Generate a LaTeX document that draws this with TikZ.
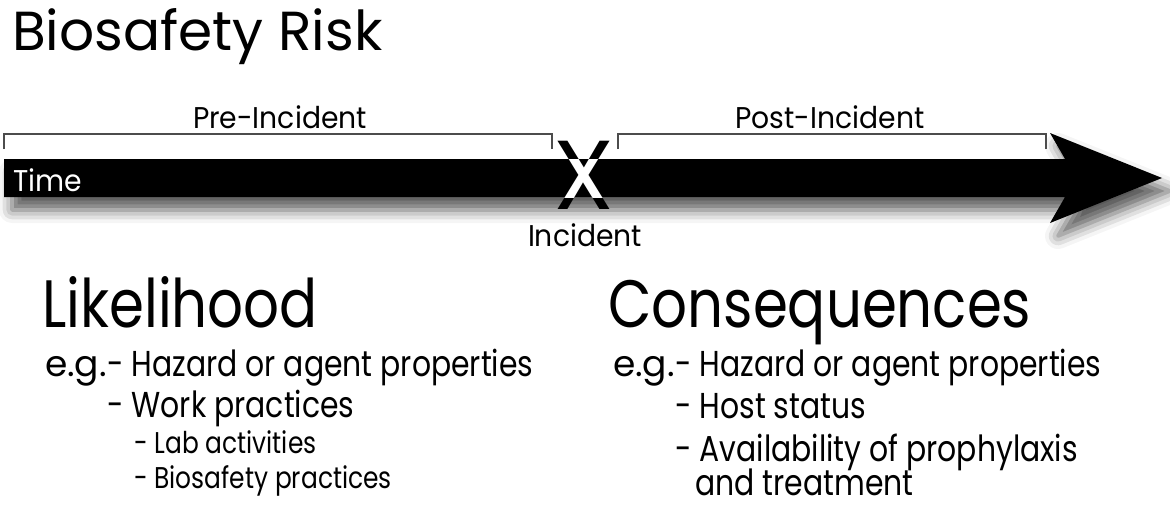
\documentclass[tikz,border=0pt]{standalone}
\usepackage{fontspec}
\setmainfont{Poppins}
\newfontfamily\headfont[FakeStretch=0.84]{Poppins}
\newfontfamily\itemfont[FakeStretch=0.83]{Poppins}
\newfontfamily\subfont[FakeStretch=0.83]{Poppins}
\newfontfamily\spanfont[FakeStretch=0.94]{Poppins}
\usetikzlibrary{shadows.blur}

\tikzset{
  txt/.style={anchor=base west, inner sep=0pt},
  titletxt/.style={txt, font=\fontsize{55}{60}\selectfont},
  headtxt/.style={txt, font=\headfont\fontsize{67}{72}\selectfont},
  itemtxt/.style={txt, font=\itemfont\fontsize{36}{42}\selectfont},
  egtxt/.style={anchor=base east, inner sep=0pt, font=\fontsize{36}{42}\selectfont},
  subtxt/.style={txt, font=\subfont\fontsize{30}{34}\selectfont},
  spantxt/.style={anchor=base, inner sep=0pt, font=\spanfont\fontsize{30}{36}\selectfont},
  bracket/.style={line width=2pt, draw=black!70},
  xmark/.style={inner sep=0pt, font=\fontsize{98}{98}\selectfont},
}

\begin{document}
\begin{tikzpicture}[x=1pt,y=-1pt]
\useasboundingbox (0,0) rectangle (1170,506);

\node[titletxt] (title) at (12,50) {Biosafety Risk}; %title

%time arrow
\fill[black, blur shadow={shadow xshift=8pt, shadow yshift=-13pt, shadow blur radius=13pt, shadow opacity=65}]
  (4,159) -- (1065,159) -- (1050,133) -- (1162,178) -- (1050,223) -- (1065,197) -- (4,197) -- cycle;
\node[txt, text=white, font=\spanfont\fontsize{30}{36}\selectfont] (time) at (13,191) {Time}; %time label

%brackets
\coordinate (pre w) at (4,149);
\coordinate (pre e) at (552,149);
\coordinate (post w) at (618,149);
\coordinate (post e) at (1046,149);
\draw[bracket] (pre w) -- ++(0,-15) -| (pre e); %pre bracket
\draw[bracket] (post w) -- ++(0,-15) -| (post e); %post bracket
\node[spantxt] (pre) at (280,128) {Pre-Incident};
\node[spantxt] (post) at (830,128) {Post-Incident};

%incident mark
\node[xmark] (xm) at (584,175) {X};
\begin{scope}
  \clip (4,159) rectangle (1065,197);
  \node[xmark, text=white] at (584,175) {X};
\end{scope}
\node[spantxt] (incident) at (585,246) {Incident};

%likelihood
\node[headtxt] (likely) at (42,327) {Likelihood};
\node[egtxt] (eg1) at (107,376) {e.g.};
\node[itemtxt] (l1) at (107,376) {- Hazard or agent properties};
\node[itemtxt] (l2) at (107,417) {- Work practices};
\node[subtxt] (l3) at (134,453) {- Lab activities};
\node[subtxt] (l4) at (134,488) {- Biosafety practices};

%consequences
\node[headtxt] (conseq) at (608,327) {Consequences};
\node[egtxt] (eg2) at (675,376) {e.g.};
\node[itemtxt] (c1) at (675,376) {- Hazard or agent properties};
\node[itemtxt] (c2) at (675,418) {- Host status};
\node[itemtxt] (c3) at (675,461) {- Availability of prophylaxis};
\node[itemtxt] (c4) at (695,495) {and treatment};
\end{tikzpicture}
\end{document}
